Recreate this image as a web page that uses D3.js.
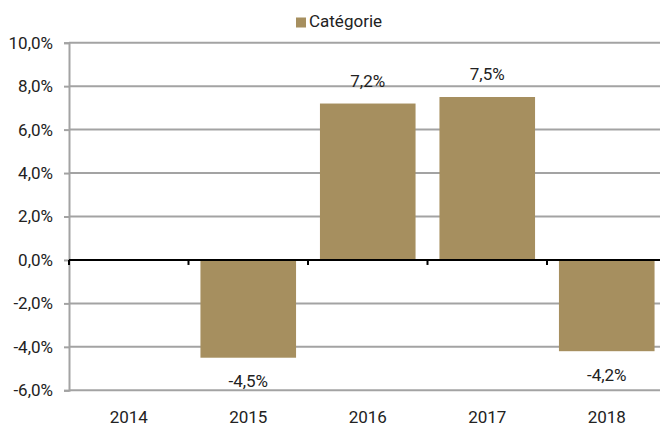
<!DOCTYPE html>
<html>
<head>
<meta charset="utf-8">
<script src="https://cdn.jsdelivr.net/npm/d3@7"></script>
<style>
  body { margin: 0; background: #fff; }
  svg text { font-family: Roboto, "Noto Sans", sans-serif; fill: #222; }
</style>
</head>
<body>
<svg id="chart" width="660" height="428"></svg>
<script>
// data
var years = ["2014", "2015", "2016", "2017", "2018"];
var values = [null, -4.5, 7.2, 7.5, -4.2];
var yTicks = [10, 8, 6, 4, 2, 0, -2, -4, -6];
var seriesName = "Catégorie";

var barColor = "#a68f5f";
var gridColor = "#a3a3a3";
var fontSize = "17px";

var svg = d3.select("#chart");

var x = d3.scaleBand().domain(years).range([69, 666.5]).paddingInner(0.2).paddingOuter(0.1);
var y = d3.scaleLinear().domain([-6, 10]).range([390.3, 42.7]);

function fmt(v) {
    return v.toFixed(1).replace(".", ",") + "%";
}

// gridlines
svg.append("g").selectAll("line")
    .data(yTicks.filter(function(d) { return d != 0; }))
    .enter().append("line")
    .attr("x1", 69).attr("x2", 660)
    .attr("y1", function(d) { return y(d); }).attr("y2", function(d) { return y(d); })
    .attr("stroke", gridColor).attr("stroke-width", 2);

// y axis
var yAxis = d3.axisLeft(y).tickValues(yTicks).tickSize(5).tickPadding(11).tickFormat(fmt);
var gy = svg.append("g").attr("transform", "translate(69,0)").call(yAxis);
gy.select(".domain").attr("stroke", gridColor).attr("stroke-width", 2);
gy.selectAll(".tick line").attr("stroke", gridColor).attr("stroke-width", 2);
gy.selectAll(".tick text").style("font-size", fontSize).attr("fill", "#222");

var pts = years.map(function(d, i) { return { year: d, v: values[i] }; })
    .filter(function(d) { return d.v != null; });

// bars
svg.append("g").selectAll("rect")
    .data(pts)
    .enter().append("rect")
    .attr("x", function(d) { return x(d.year); })
    .attr("width", x.bandwidth())
    .attr("y", function(d) { return y(Math.max(0, d.v)); })
    .attr("height", function(d) { return Math.abs(y(d.v) - y(0)); })
    .attr("fill", barColor);

// value labels
svg.append("g").selectAll("text")
    .data(pts)
    .enter().append("text")
    .attr("x", function(d) { return x(d.year) + x.bandwidth() / 2; })
    .attr("y", function(d) { return d.v >= 0 ? y(d.v) - 17 : y(d.v) + 29.5; })
    .attr("text-anchor", "middle")
    .style("font-size", fontSize)
    .text(function(d) { return fmt(d.v); });

// zero line with category ticks
svg.append("line")
    .attr("x1", 69).attr("x2", 660)
    .attr("y1", y(0)).attr("y2", y(0))
    .attr("stroke", "#000").attr("stroke-width", 2);
svg.append("g").selectAll("line")
    .data(years)
    .enter().append("line")
    .attr("x1", function(d) { return x(d) - x.step() * 0.1; })
    .attr("x2", function(d) { return x(d) - x.step() * 0.1; })
    .attr("y1", y(0)).attr("y2", y(0) + 5)
    .attr("stroke", "#000").attr("stroke-width", 2);

// category labels
svg.append("g").selectAll("text")
    .data(years)
    .enter().append("text")
    .attr("x", function(d) { return x(d) + x.bandwidth() / 2; })
    .attr("y", 423)
    .attr("text-anchor", "middle")
    .style("font-size", fontSize)
    .text(function(d) { return d; });

// legend
svg.append("rect").attr("x", 296).attr("y", 17.5).attr("width", 10).attr("height", 10).attr("fill", barColor);
svg.append("text").attr("x", 309).attr("y", 27).style("font-size", fontSize).text(seriesName);
</script>
</body>
</html>
